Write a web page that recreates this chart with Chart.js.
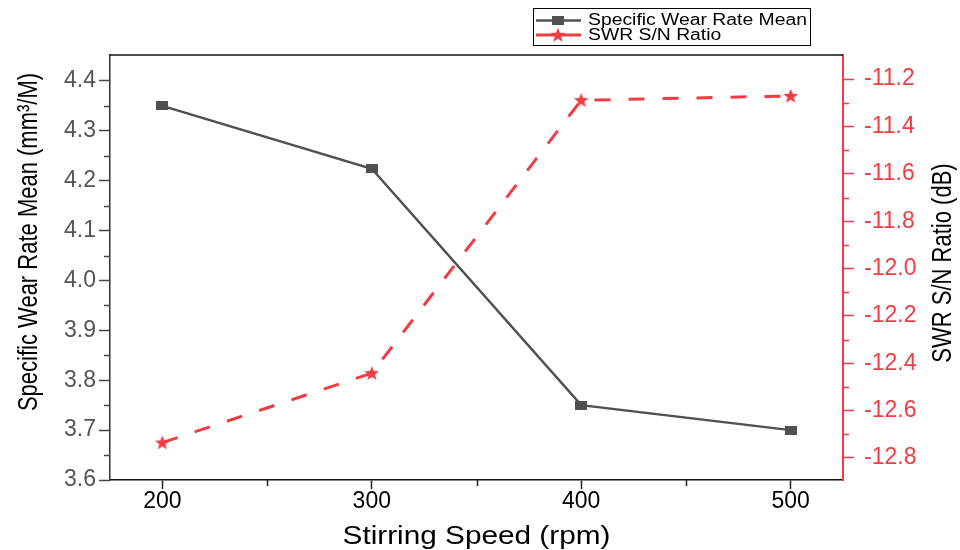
<!DOCTYPE html>
<html>
<head>
<meta charset="utf-8">
<script src="https://cdn.jsdelivr.net/npm/chart.js@4"></script>
<style>
  html, body { margin: 0; padding: 0; background: #fff; }
  #wrap { width: 960px; height: 550px; }
</style>
</head>
<body>
<div id="wrap"><canvas id="chart" width="960" height="550"></canvas></div>
<script>
const speeds = [200, 300, 400, 500];
const wearMean = [4.35, 4.224, 3.75, 3.70];
const snRatio = [-12.735, -12.442, -11.289, -11.271];

const xTicks = [200, 300, 400, 500];
const xMinor = [250, 350, 450];
const yTicks = [3.6, 3.7, 3.8, 3.9, 4.0, 4.1, 4.2, 4.3, 4.4];
const yMinor = [3.65, 3.75, 3.85, 3.95, 4.05, 4.15, 4.25, 4.35];
const y1Ticks = [-12.8, -12.6, -12.4, -12.2, -12.0, -11.8, -11.6, -11.4, -11.2];
const y1Minor = [-12.7, -12.5, -12.3, -12.1, -11.9, -11.7, -11.5, -11.3];

const GREY = '#505050';
const RED = '#f23c44';
const FONT = '"Liberation Sans", Arial, sans-serif';

// marker images
function squareMarker() {
  const c = document.createElement('canvas');
  c.width = 12; c.height = 9;
  const g = c.getContext('2d');
  g.fillStyle = GREY;
  g.fillRect(0, 0, 12, 9);
  return c;
}
function starMarker() {
  const c = document.createElement('canvas');
  c.width = 16; c.height = 16;
  const g = c.getContext('2d');
  g.fillStyle = RED;
  g.beginPath();
  for (let i = 0; i < 10; i++) {
    const r = i % 2 === 0 ? 7.8 : 3.3;
    const a = -Math.PI / 2 + i * Math.PI / 5;
    const px = 8 + r * Math.cos(a), py = 8.5 + r * Math.sin(a);
    if (i === 0) g.moveTo(px, py); else g.lineTo(px, py);
  }
  g.closePath();
  g.fill();
  return c;
}
const sq = squareMarker();
const st = starMarker();

const minorTickPlugin = {
  id: 'minorTicks',
  afterDraw(chart) {
    const ctx = chart.ctx;
    const a = chart.chartArea;
    ctx.save();
    ctx.lineWidth = 1.5;
    ctx.strokeStyle = '#222';
    ctx.beginPath();
    xMinor.forEach(v => {
      const p = Math.round(chart.scales.x.getPixelForValue(v)) + 0.5;
      ctx.moveTo(p, a.bottom); ctx.lineTo(p, a.bottom + 6);
    });
    ctx.stroke();
    ctx.strokeStyle = '#444';
    ctx.beginPath();
    yMinor.forEach(v => {
      const p = Math.round(chart.scales.y.getPixelForValue(v)) + 0.5;
      ctx.moveTo(a.left - 6, p); ctx.lineTo(a.left, p);
    });
    ctx.stroke();
    ctx.strokeStyle = RED;
    ctx.beginPath();
    y1Minor.forEach(v => {
      const p = Math.round(chart.scales.y1.getPixelForValue(v)) + 0.5;
      ctx.moveTo(a.right, p); ctx.lineTo(a.right + 6, p);
    });
    ctx.stroke();
    // top frame line
    ctx.strokeStyle = '#111';
    ctx.lineWidth = 1.5;
    ctx.beginPath();
    ctx.moveTo(a.left, a.top); ctx.lineTo(a.right, a.top);
    ctx.stroke();
    ctx.restore();
  }
};

// axis titles drawn by hand: both y titles read bottom-to-top, text a bit stretched like the original
const titlePlugin = {
  id: 'axisTitles',
  afterDraw(chart) {
    const ctx = chart.ctx;
    const a = chart.chartArea;
    const put = (text, x, y, rot, size, sx, sy) => {
      ctx.save();
      ctx.translate(x, y);
      ctx.rotate(rot);
      ctx.scale(sx, sy);
      ctx.font = size + 'px ' + FONT;
      ctx.fillStyle = '#000';
      ctx.textAlign = 'center';
      ctx.textBaseline = 'middle';
      ctx.fillText(text, 0, 0);
      ctx.restore();
    };
    const o = chart.options.scales;
    put(o.x.title.text, (a.left + a.right) / 2, 537, 0, 25, 1.19, 1);
    put(o.y.title.text, 29, 242, -Math.PI / 2, 22, 1, 1.28);
    put(o.y1.title.text, 943, 263, -Math.PI / 2, 22, 1, 1.28);
  }
};

const legendPlugin = {
  id: 'boxLegend',
  afterDraw(chart) {
    const ctx = chart.ctx;
    ctx.save();
    ctx.strokeStyle = '#000';
    ctx.lineWidth = 1;
    ctx.strokeRect(533.5, 8.5, 277, 37);
    const rows = [
      { y: 20.5, color: GREY, img: sq, lw: 2.5 },
      { y: 35, color: RED, img: st, lw: 3 }
    ];
    ctx.font = '16px ' + FONT;
    const sx = 219 / ctx.measureText(chart.data.datasets[0].label).width;
    chart.data.datasets.forEach((ds, i) => {
      const r = rows[i];
      ctx.strokeStyle = r.color;
      ctx.lineWidth = r.lw;
      ctx.beginPath();
      ctx.moveTo(536, r.y); ctx.lineTo(581, r.y);
      ctx.stroke();
      ctx.drawImage(r.img, 558 - r.img.width / 2, r.y - r.img.height / 2);
      ctx.save();
      ctx.translate(588, r.y + 0.5);
      ctx.scale(sx, 1);
      ctx.fillStyle = '#000';
      ctx.textBaseline = 'middle';
      ctx.textAlign = 'left';
      ctx.fillText(ds.label, 0, 0);
      ctx.restore();
    });
    ctx.restore();
  }
};

new Chart(document.getElementById('chart').getContext('2d'), {
  type: 'line',
  data: {
    datasets: [{
      label: 'Specific Wear Rate Mean',
      data: speeds.map((s, i) => ({ x: s, y: wearMean[i] })),
      yAxisID: 'y',
      borderColor: GREY,
      backgroundColor: GREY,
      borderWidth: 2.5,
      pointStyle: sq,
      pointRadius: 6,
      tension: 0
    }, {
      label: 'SWR S/N Ratio',
      data: speeds.map((s, i) => ({ x: s, y: snRatio[i] })),
      yAxisID: 'y1',
      borderColor: RED,
      backgroundColor: RED,
      borderWidth: 3,
      borderDash: [16, 18],
      pointStyle: st,
      pointRadius: 7,
      tension: 0
    }]
  },
  options: {
    responsive: false,
    animation: false,
    layout: { padding: { top: 55, left: 0, right: 0, bottom: 0 } },
    plugins: { legend: { display: false }, tooltip: { enabled: false } },
    scales: {
      x: {
        type: 'linear',
        min: 175, max: 525,
        afterBuildTicks: s => { s.ticks = xTicks.map(v => ({ value: v })); },
        afterFit: s => { s.height = 70; },
        grid: { drawOnChartArea: false, tickLength: 9, tickColor: '#222', tickWidth: 1.5 },
        border: { color: '#111', width: 1.5 },
        ticks: { color: '#000', padding: 1, font: { family: FONT, size: 23, lineHeight: 1 } },
        title: { display: false, text: 'Stirring Speed (rpm)' }
      },
      y: {
        position: 'left',
        min: 3.6, max: 4.452,
        afterBuildTicks: s => { s.ticks = yTicks.map(v => ({ value: v })); },
        afterFit: s => { s.width = 110; },
        grid: { drawOnChartArea: false, tickLength: 11, tickColor: '#444', tickWidth: 1.5 },
        border: { color: '#333', width: 1.5 },
        ticks: { color: '#555', padding: 3, font: { family: FONT, size: 23, lineHeight: 1 },
                 callback: v => v.toFixed(1) },
        title: { display: false, text: 'Specific Wear Rate Mean (mm³/M)' }
      },
      y1: {
        position: 'right',
        min: -12.893, max: -11.098,
        afterBuildTicks: s => { s.ticks = y1Ticks.map(v => ({ value: v })); },
        afterFit: s => { s.width = 117; },
        grid: { drawOnChartArea: false, tickLength: 11, tickColor: RED, tickWidth: 1.5 },
        border: { color: RED, width: 2 },
        ticks: { color: RED, padding: 10, font: { family: FONT, size: 23, lineHeight: 1 },
                 callback: v => v.toFixed(1) },
        title: { display: false, text: 'SWR S/N Ratio (dB)' }
      }
    }
  },
  plugins: [minorTickPlugin, titlePlugin, legendPlugin]
});
</script>
</body>
</html>
